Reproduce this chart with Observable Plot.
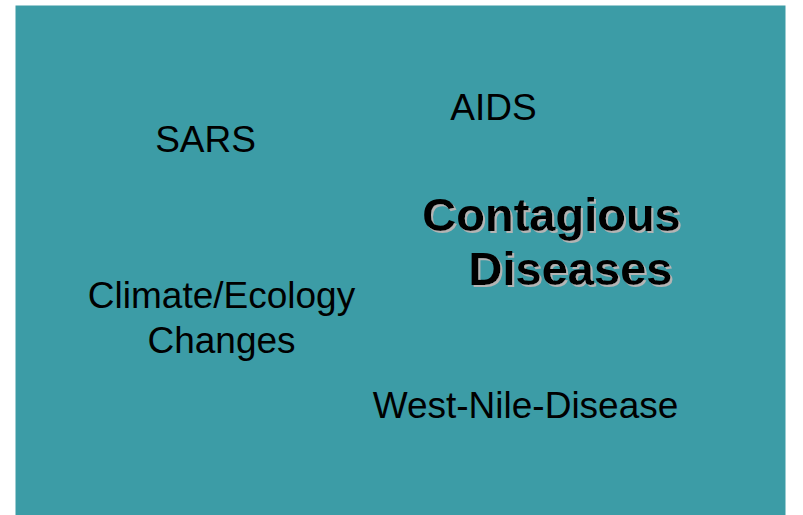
<!DOCTYPE html>
<html>
<head>
<meta charset="utf-8">
<script src="https://cdn.jsdelivr.net/npm/d3@7"></script>
<script src="https://cdn.jsdelivr.net/npm/@observablehq/plot@0.6"></script>
<style>
  html, body { margin: 0; padding: 0; background: #ffffff; }
  #chart svg { display: block; }
</style>
</head>
<body>
<div id="chart"></div>
<script>
// Topic labels and their placement on the slide (in slide units)
const labels = ["SARS", "AIDS", "Climate/Ecology", "Changes", "West-Nile-Disease"];
const labelX = [205, 493, 221, 221, 525];
const labelY = [151, 119, 307, 352, 417];

// Central title lines
const titleLines = ["Contagious", "Diseases"];
const titleX = [551, 570];
const titleY = [230, 284];

const labelData = labels.map((t, i) => ({text: t, x: labelX[i], y: labelY[i]}));
const titleData = titleLines.map((t, i) => ({text: t, x: titleX[i], y: titleY[i]}));

const W = 803, H = 515;
const font = "'Liberation Sans', Arial, Helvetica, sans-serif";

const chart = Plot.plot({
  width: W,
  height: H,
  margin: 0,
  x: {domain: [0, W], range: [0, W], axis: null},
  y: {domain: [0, H], range: [0, H], axis: null},
  style: {fontFamily: font, background: "#ffffff"},
  marks: [
    Plot.frame({fill: "#3c9ca6", stroke: null, insetLeft: 15, insetRight: 18, insetTop: 5}),
    Plot.text(labelData, {
      x: "x", y: "y", text: "text",
      textAnchor: "middle", lineAnchor: "bottom",
      fontSize: 37, fill: "#000000", fontFamily: font
    }),
    Plot.text(titleData, {
      x: "x", y: "y", text: "text",
      textAnchor: "middle", lineAnchor: "bottom",
      fontSize: 47, fontWeight: "bold", fill: "#000000", fontFamily: font
    })
  ]
});

// Light grey drop shadow on the title lines
const svg = d3.select(chart);
const defs = svg.insert("defs", ":first-child");
defs.append("filter")
  .attr("id", "title-shadow")
  .attr("x", "-10%").attr("y", "-20%").attr("width", "120%").attr("height", "140%")
  .append("feDropShadow")
  .attr("dx", 2).attr("dy", 2).attr("stdDeviation", 0.3)
  .attr("flood-color", "#b4b4b4").attr("flood-opacity", 1);
svg.selectAll('g[aria-label="text"]')
  .filter((d, i) => i === 1)
  .attr("filter", "url(#title-shadow)");

document.getElementById("chart").appendChild(chart);
</script>
</body>
</html>
